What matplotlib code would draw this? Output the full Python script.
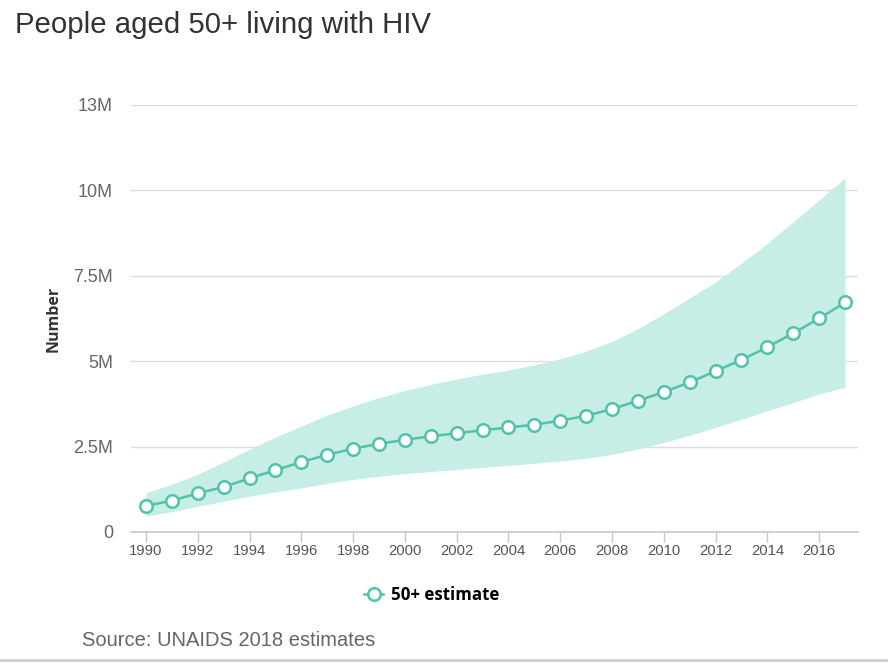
import matplotlib
matplotlib.use('Agg')
import matplotlib.pyplot as plt
from matplotlib.lines import Line2D
import numpy as np

# data (millions)
years = list(range(1990, 2018))
estimate = [0.76, 0.92, 1.13, 1.32, 1.57, 1.81, 2.05, 2.26, 2.44, 2.58,
            2.70, 2.80, 2.89, 2.98, 3.06, 3.14, 3.26, 3.40, 3.60, 3.84,
            4.10, 4.38, 4.71, 5.04, 5.41, 5.82, 6.25, 6.72]
upper = [1.15, 1.40, 1.69, 2.05, 2.42, 2.78, 3.10, 3.42, 3.69, 3.93,
         4.14, 4.32, 4.48, 4.62, 4.74, 4.89, 5.07, 5.29, 5.58, 5.95,
         6.39, 6.85, 7.32, 7.87, 8.45, 9.08, 9.72, 10.36]
lower = [0.46, 0.60, 0.75, 0.90, 1.05, 1.17, 1.29, 1.42, 1.54, 1.63,
         1.71, 1.77, 1.83, 1.89, 1.95, 2.01, 2.08, 2.16, 2.27, 2.43,
         2.62, 2.83, 3.06, 3.30, 3.55, 3.79, 4.04, 4.24]
ytick_vals = [0, 2.5, 5, 7.5, 10, 12.5]
ytick_labels = ['0', '2.5M', '5M', '7.5M', '10M', '13M']
xtick_vals = list(range(1990, 2017, 2))

teal = '#52c2a9'
band = '#c6ede6'

plt.rcParams['font.family'] = ['Liberation Sans', 'DejaVu Sans']

fig = plt.figure(figsize=(8.88, 6.64), dpi=100)
ax = fig.add_axes([0.1475, 0.1988, 0.8187, 0.6431])

ax.fill_between(years, lower, upper, color=band, lw=0, zorder=1)
ax.plot(years, estimate, color=teal, lw=1.8, marker='o', ms=9,
        mfc='white', mec=teal, mew=1.8, zorder=3, clip_on=False)

ax.set_xlim(1989.42, 2017.5)
ax.set_ylim(0, 12.5)
ax.set_yticks(ytick_vals)
ax.set_yticklabels(ytick_labels)
ax.set_xticks(xtick_vals)
ax.set_xticklabels([str(y) for y in xtick_vals])

ax.grid(axis='y', color='#dcdcdc', lw=1)
ax.set_axisbelow(True)
for s in ['top', 'right', 'left']:
    ax.spines[s].set_visible(False)
ax.spines['bottom'].set_color('#c8c8c8')
ax.spines['bottom'].set_linewidth(1.2)
ax.tick_params(axis='y', length=0, pad=13, labelsize=13, labelcolor='#666666')
ax.tick_params(axis='x', length=7, color='#c8c8c8', width=1, pad=2,
               labelsize=10.7, labelcolor='#555555')

ax.set_ylabel('Number', fontsize=11.5, fontweight='bold', color='#333333',
              family=['Open Sans', 'DejaVu Sans'], labelpad=8)

fig.text(15 / 888, 1 - 25 / 664, 'People aged 50+ living with HIV', fontsize=21.2,
         color='#333333', va='center', ha='left')
fig.text(82 / 888, 1 - 641 / 664, 'Source: UNAIDS 2018 estimates', fontsize=14.5,
         color='#666666', va='center', ha='left')

# legend
leg_handle = Line2D([], [], color=teal, lw=1.8, marker='o', ms=9, mfc='white',
                    mec=teal, mew=1.8)
fig.legend([leg_handle], ['50+ estimate'], loc='center', bbox_to_anchor=(432 / 888, 1 - 595 / 664),
           frameon=False, handlelength=1.1, handletextpad=0.5,
           prop={'family': ['Open Sans', 'DejaVu Sans'], 'weight': 'bold', 'size': 12.2})

fig.add_artist(Line2D([0, 1], [1 - 660 / 664, 1 - 660 / 664], color='#d0d0d0', lw=2,
                      transform=fig.transFigure))

fig.savefig('out.png', dpi=100)
